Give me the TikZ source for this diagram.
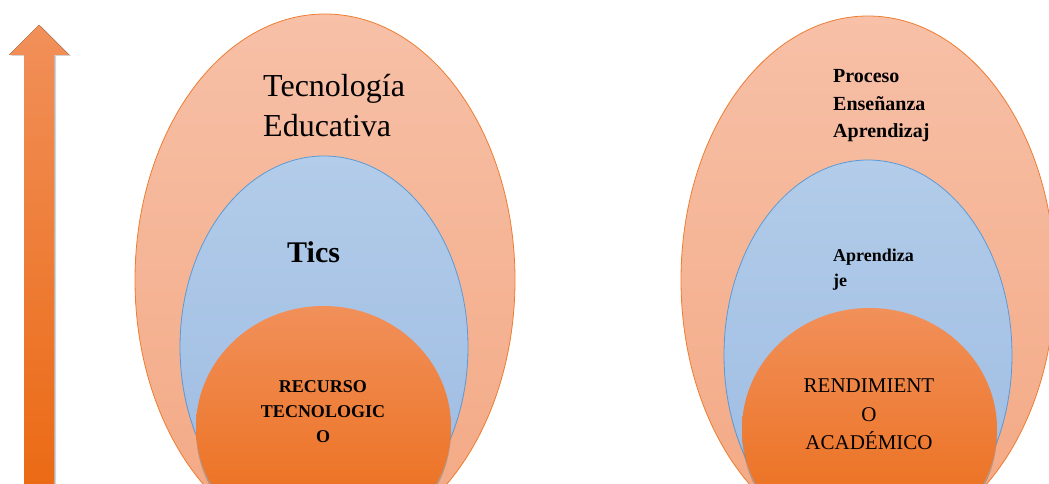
\documentclass[tikz,border=0pt]{standalone}
\usepackage{fontspec}
\setmainfont{Liberation Serif}
\usetikzlibrary{shapes.geometric,shadows}

\definecolor{pielborde}{HTML}{ED7D31}
\definecolor{pielarriba}{HTML}{F7C0A7}
\definecolor{pielabajo}{HTML}{F3A883}
\definecolor{azulborde}{HTML}{5B9BD5}
\definecolor{azularriba}{HTML}{B2CCE9}
\definecolor{azulabajo}{HTML}{9CBAE2}
\definecolor{naranjaarriba}{HTML}{F1905A}
\definecolor{naranjamedio}{HTML}{F07628}
\definecolor{naranjaabajo}{HTML}{EB6A14}

\tikzset{
  capa/.style={ellipse, inner sep=0pt, draw=pielborde, line width=0.8pt,
    top color=pielarriba, bottom color=pielabajo},
  tic/.style={ellipse, inner sep=0pt, draw=azulborde, line width=0.8pt,
    top color=azularriba, bottom color=azulabajo,
    drop shadow={shadow xshift=0pt, shadow yshift=-2pt, opacity=0.25}},
  nucleo/.style={ellipse, inner sep=0pt, draw=none,
    top color=naranjaarriba, middle color=naranjamedio, bottom color=naranjaabajo,
    drop shadow={shadow xshift=0pt, shadow yshift=-4pt, opacity=0.5}},
}

\begin{document}
\begin{tikzpicture}[x=1pt, y=1pt]
    \useasboundingbox (0,0) rectangle (1049,484);
    \clip (0,0) rectangle (1049,484);

    % 矢印
    \fill[top color=naranjaarriba, bottom color=naranjaabajo,
      drop shadow={shadow xshift=2pt, shadow yshift=-1pt, opacity=0.35}]
      (24,-5) -- (24,429) -- (9,429) -- (39,459) -- (69,429)
      -- (54,429) -- (54,-5) -- cycle;

    % 左の楕円
    \node[capa, minimum width=380, minimum height=532] (A) at (325, 204) {};
    \node[tic, minimum width=288, minimum height=382] (B) at (324, 137) {};
    \node[nucleo, minimum width=255, minimum height=242] (C) at (323.5, 57) {};

    % 右の楕円
    \node[capa, minimum width=374, minimum height=528] (D) at (868, 204) {};
    \node[tic, minimum width=288, minimum height=390] (E) at (868, 129) {};
    \node[nucleo, minimum width=255, minimum height=242] (F) at (869.5, 55) {};

    % 文字 (base = 最後の行)
    \node[anchor=base west, align=left, inner sep=0pt,
      font=\fontsize{32}{40}\selectfont] (a) at (263, 347) {Tecnología\\Educativa};
    \node[anchor=base west, inner sep=0pt,
      font=\fontsize{30}{36}\selectfont\bfseries] (b) at (287, 221) {Tics};
    \node[anchor=base, align=center, inner sep=0pt,
      font=\fontsize{18}{25}\selectfont\bfseries] (c) at (323, 41) {RECURSO\\TECNOLOGIC\\O};
    \node[anchor=base west, align=left, inner sep=0pt,
      font=\fontsize{20}{27.5}\selectfont\bfseries] (d) at (833, 346) {Proceso\\Enseñanza\\Aprendizaj};
    \node[anchor=base west, align=left, inner sep=0pt,
      font=\fontsize{18}{25}\selectfont\bfseries] (e) at (833, 197) {Aprendiza\\je};
    \node[anchor=base, align=center, inner sep=0pt,
      font=\fontsize{21}{28.5}\selectfont] (f) at (869, 34) {RENDIMIENT\\O\\ACADÉMICO};

  \end{tikzpicture}
\end{document}
